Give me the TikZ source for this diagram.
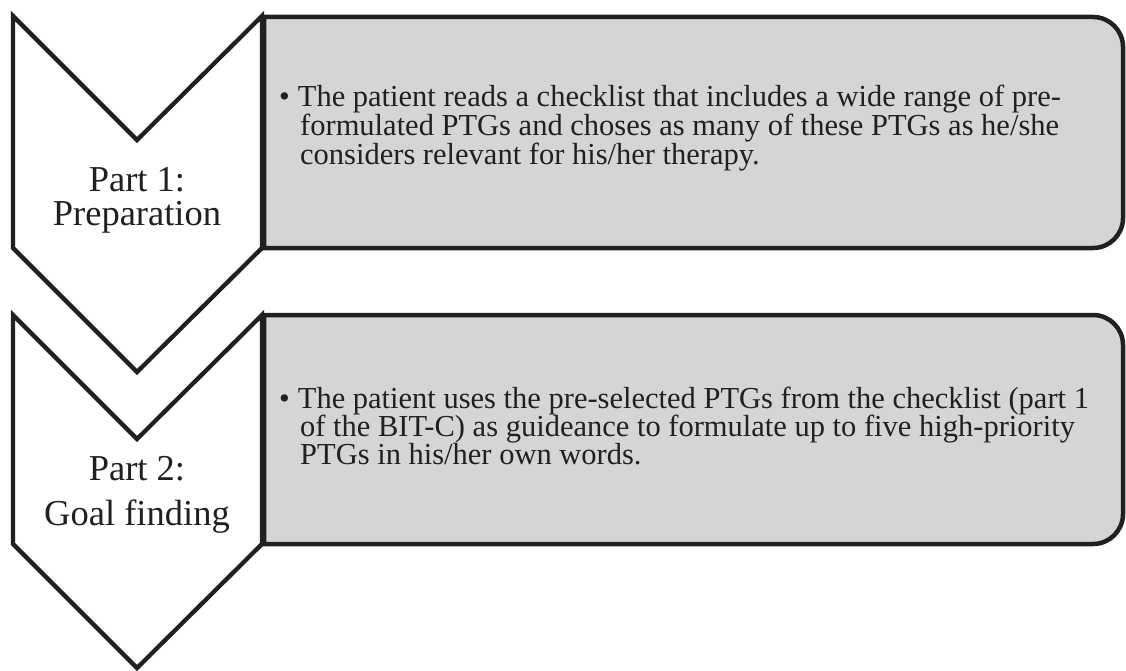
\documentclass[tikz,border=0pt]{standalone}
\usepackage{fontspec}
\setmainfont{Liberation Serif}
\definecolor{ink}{HTML}{231F20}
\definecolor{boxgray}{HTML}{D4D5D7}
\begin{document}
\begin{tikzpicture}[x=1pt,y=1pt,
  chev/.style={draw=ink,line width=4.3pt,fill=white,line join=miter},
  infobox/.style={draw=ink,line width=4.5pt,fill=boxgray},
  bodytext/.style={text=ink,align=left,inner sep=0pt,font=\fontsize{30.5}{28}\selectfont},
  labeltext/.style={text=ink,align=center,inner sep=0pt}]
\useasboundingbox (0,0) rectangle (1126,-671);
% boxes
\draw[infobox] (264,-17) -- (1093,-17) arc[start angle=90,end angle=0,radius=30] -- (1123,-218) arc[start angle=0,end angle=-90,radius=30] -- (264,-248) -- cycle;
\draw[infobox] (264,-315) -- (1093,-315) arc[start angle=90,end angle=0,radius=30] -- (1123,-514) arc[start angle=0,end angle=-90,radius=30] -- (264,-544) -- cycle;
% chevrons
\draw[chev] (13,-16) -- (137,-140) -- (262,-16) -- (262,-248) -- (137,-372) -- (13,-248) -- cycle;
\draw[chev] (13,-315) -- (137,-439) -- (262,-315) -- (262,-544) -- (137,-668) -- (13,-544) -- cycle;
% labels (anchor = baseline of last line)
\node[labeltext,anchor=base,font=\fontsize{36.5}{33}\selectfont] (lab1) at (137,-225) {Part 1:\\Preparation};
\node[labeltext,anchor=base,font=\fontsize{36.5}{45}\selectfont] (lab2) at (137,-525) {Part 2:\\Goal finding};
% body texts (anchor = baseline of last line)
\node[bodytext,anchor=base west] (txt1) at (279,-165) {\textbullet\hspace{8pt}The patient reads a checklist that includes a wide range of pre-\\\hspace*{21pt}formulated PTGs and choses as many of these PTGs as he/she\\\hspace*{21pt}considers relevant for his/her therapy.};
\node[bodytext,anchor=base west] (txt2) at (279,-464) {\textbullet\hspace{8pt}The patient uses the pre-selected PTGs from the checklist (part 1\\\hspace*{21pt}of the BIT-C) as guideance to formulate up to five high-priority\\\hspace*{21pt}PTGs in his/her own words.};
\end{tikzpicture}
\end{document}
